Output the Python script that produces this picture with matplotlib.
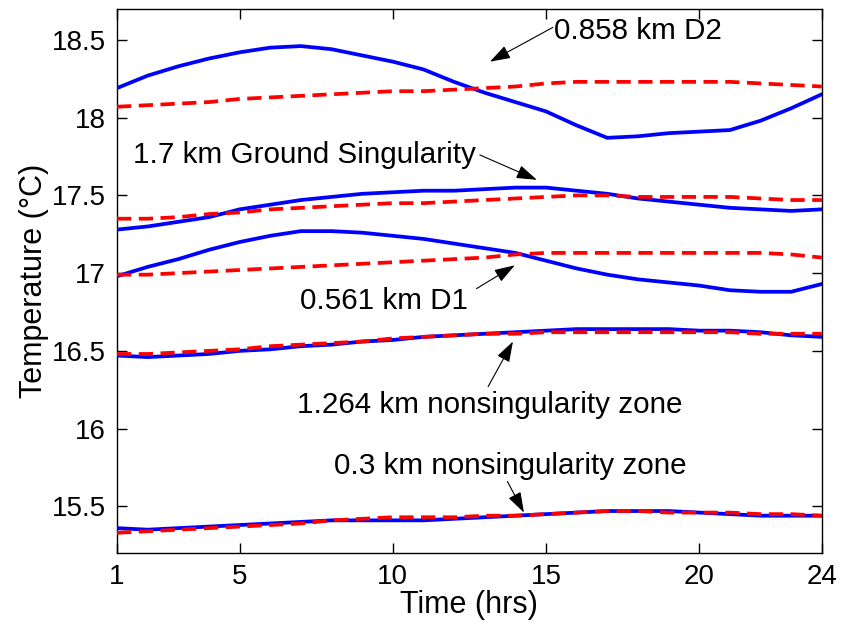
import matplotlib
matplotlib.use("Agg")
import matplotlib.pyplot as plt

hours = list(range(1, 25))

d2_meas = [18.19, 18.27, 18.33, 18.38, 18.42, 18.45, 18.46, 18.44, 18.40, 18.36, 18.31, 18.23,
           18.16, 18.10, 18.04, 17.95, 17.87, 17.88, 17.90, 17.91, 17.92, 17.98, 18.06, 18.15]
d2_model = [18.07, 18.08, 18.09, 18.10, 18.12, 18.13, 18.14, 18.15, 18.16, 18.17, 18.17, 18.18,
            18.19, 18.20, 18.22, 18.23, 18.23, 18.23, 18.23, 18.23, 18.23, 18.22, 18.21, 18.20]

gs_meas = [17.28, 17.30, 17.33, 17.36, 17.41, 17.44, 17.47, 17.49, 17.51, 17.52, 17.53, 17.53,
           17.54, 17.55, 17.55, 17.53, 17.51, 17.48, 17.46, 17.44, 17.42, 17.41, 17.40, 17.41]
gs_model = [17.35, 17.35, 17.36, 17.38, 17.39, 17.41, 17.42, 17.43, 17.44, 17.45, 17.45, 17.46,
            17.47, 17.48, 17.49, 17.50, 17.50, 17.49, 17.49, 17.49, 17.49, 17.48, 17.47, 17.47]

d1_meas = [16.98, 17.04, 17.09, 17.15, 17.20, 17.24, 17.27, 17.27, 17.26, 17.24, 17.22, 17.19,
           17.16, 17.13, 17.08, 17.03, 16.99, 16.96, 16.94, 16.92, 16.89, 16.88, 16.88, 16.93]
d1_model = [16.99, 16.99, 17.00, 17.01, 17.02, 17.03, 17.04, 17.05, 17.06, 17.07, 17.08, 17.09,
            17.10, 17.12, 17.13, 17.13, 17.13, 17.13, 17.13, 17.13, 17.13, 17.13, 17.12, 17.10]

ns1264_meas = [16.47, 16.46, 16.47, 16.48, 16.50, 16.51, 16.53, 16.54, 16.56, 16.57, 16.59, 16.60,
               16.61, 16.62, 16.63, 16.64, 16.64, 16.64, 16.64, 16.63, 16.63, 16.62, 16.60, 16.59]
ns1264_model = [16.48, 16.48, 16.49, 16.50, 16.51, 16.53, 16.54, 16.55, 16.56, 16.58, 16.59, 16.60,
                16.61, 16.61, 16.62, 16.62, 16.62, 16.62, 16.62, 16.62, 16.62, 16.61, 16.61, 16.61]

ns03_meas = [15.36, 15.35, 15.36, 15.37, 15.38, 15.39, 15.40, 15.41, 15.41, 15.41, 15.41, 15.42,
             15.43, 15.44, 15.45, 15.46, 15.47, 15.47, 15.47, 15.46, 15.45, 15.44, 15.44, 15.44]
ns03_model = [15.33, 15.34, 15.35, 15.36, 15.37, 15.38, 15.39, 15.41, 15.42, 15.43, 15.43, 15.43,
              15.44, 15.44, 15.45, 15.46, 15.47, 15.47, 15.46, 15.46, 15.46, 15.45, 15.45, 15.44]

x_ticks = [1, 5, 10, 15, 20, 24]
y_ticks = [15.5, 16, 16.5, 17, 17.5, 18, 18.5]
y_tick_labels = ["15.5", "16", "16.5", "17", "17.5", "18", "18.5"]

labels = ["0.858 km D2", "1.7 km Ground Singularity", "0.561 km D1",
          "1.264 km nonsingularity zone", "0.3 km nonsingularity zone"]

plt.rcParams['font.family'] = ['Liberation Sans', 'DejaVu Sans']

fig = plt.figure(figsize=(8.42, 6.27), dpi=100)
ax = fig.add_axes([0.139, 0.118, 0.837, 0.868])

pairs = [(d2_meas, d2_model), (gs_meas, gs_model), (d1_meas, d1_model),
         (ns1264_meas, ns1264_model), (ns03_meas, ns03_model)]
for meas, model in pairs:
    ax.plot(hours, meas, color='#0000ff', lw=2.7, zorder=3)
    ax.plot(hours, model, color='#ff0000', lw=2.7, linestyle=(0, (3.8, 2.0)), zorder=3)

ax.set_xlim(1, 24)
ax.set_ylim(15.2, 18.7)
ax.set_xticks(x_ticks)
ax.set_yticks(y_ticks)
ax.set_yticklabels(y_tick_labels)
ax.tick_params(direction='in', length=7, width=1, top=True, right=True, labelsize=20, pad=8)
for s in ax.spines.values():
    s.set_linewidth(1.0)

ax.set_xlabel("Time (hrs)", fontsize=22, labelpad=0)
ax.set_ylabel("Temperature (\u00b0C)", fontsize=22, labelpad=2)

ap = dict(arrowstyle="-|>,head_length=0.9,head_width=0.3", color='black', lw=0.8,
          shrinkA=0, shrinkB=0, mutation_scale=14)
fs = 21.3

# text labels
ax.text(15.25, 18.56, labels[0], fontsize=fs, ha='left', va='center')
ax.text(12.7, 17.76, labels[1], fontsize=fs, ha='right', va='center')
ax.text(12.45, 16.82, labels[2], fontsize=fs, ha='right', va='center')
ax.text(13.17, 16.15, labels[3], fontsize=fs, ha='center', va='center')
ax.text(13.82, 15.76, labels[4], fontsize=fs, ha='center', va='center')

# arrows (tail -> head)
ax.annotate("", xy=(13.17, 18.36), xytext=(15.22, 18.58), arrowprops=ap)
ax.annotate("", xy=(14.70, 17.60), xytext=(12.84, 17.76), arrowprops=ap)
ax.annotate("", xy=(13.98, 17.05), xytext=(12.73, 16.90), arrowprops=ap)
ax.annotate("", xy=(13.92, 16.56), xytext=(13.11, 16.27), arrowprops=ap)
ax.annotate("", xy=(14.28, 15.46), xytext=(13.74, 15.66), arrowprops=ap)

fig.savefig("out.png", dpi=100)
